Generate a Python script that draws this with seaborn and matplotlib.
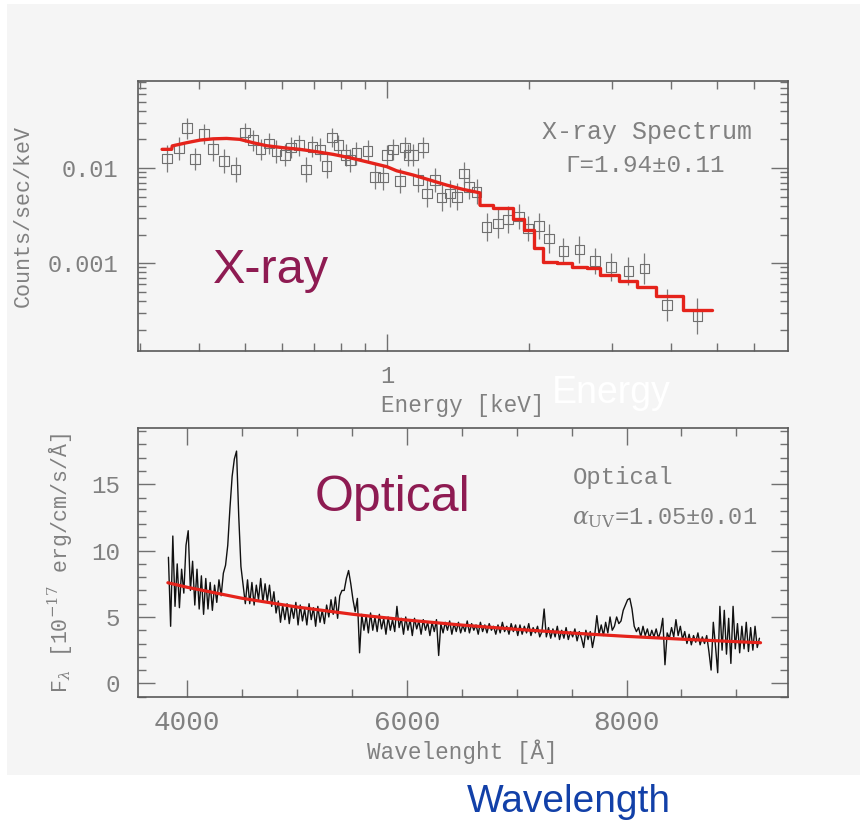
import numpy as np
import pandas as pd
import matplotlib
matplotlib.use("Agg")
import matplotlib.pyplot as plt
import seaborn as sns
from matplotlib.ticker import FixedLocator, NullFormatter, FixedFormatter
from matplotlib.patches import Rectangle

# ---------------- X-ray data ----------------
xray_energy = [0.342, 0.3625, 0.3775, 0.392, 0.410, 0.4285, 0.4516, 0.478, 0.500, 0.521,
               0.540, 0.563, 0.5835, 0.608, 0.626, 0.651, 0.6735, 0.695, 0.721, 0.745,
               0.766, 0.789, 0.8175, 0.835, 0.862, 0.910, 0.943, 0.982, 1.0, 1.031,
               1.065, 1.092, 1.11, 1.137, 1.165, 1.194, 1.214, 1.264, 1.306, 1.36,
               1.409, 1.456, 1.494, 1.549, 1.626, 1.721, 1.807, 1.907, 1.992, 2.102,
               2.207, 2.364, 2.556, 2.759, 2.983, 3.246, 3.51, 3.913, 4.545]
xray_counts = [0.0126, 0.0161, 0.0262, 0.01245, 0.0228, 0.0158, 0.01185, 0.00969, 0.0236, 0.0197,
               0.0157, 0.0182, 0.0149, 0.0137, 0.0165, 0.01745, 0.00969, 0.01675, 0.0157, 0.0105,
               0.0210, 0.01745, 0.0137, 0.0121, 0.0143, 0.0152, 0.0081, 0.00798, 0.0137, 0.0157,
               0.00736, 0.0165, 0.0137, 0.0137, 0.00748, 0.0165, 0.0054, 0.00748, 0.00491, 0.0054,
               0.00499, 0.00879, 0.00635, 0.00564, 0.00241, 0.00262, 0.00288, 0.00308, 0.00232, 0.00245,
               0.00182, 0.00134, 0.00139, 0.00105, 0.000914, 0.000824, 0.000879, 0.000361, 0.000277]
xray_err_dex = [0.14, 0.12, 0.11, 0.12, 0.11, 0.12, 0.13, 0.13, 0.10, 0.11,
                0.11, 0.11, 0.12, 0.12, 0.11, 0.11, 0.13, 0.11, 0.12, 0.13,
                0.10, 0.11, 0.12, 0.12, 0.12, 0.11, 0.13, 0.13, 0.11, 0.11,
                0.13, 0.11, 0.12, 0.12, 0.13, 0.11, 0.14, 0.13, 0.14, 0.14,
                0.14, 0.12, 0.13, 0.13, 0.15, 0.15, 0.14, 0.13, 0.13, 0.14,
                0.15, 0.14, 0.14, 0.14, 0.15, 0.15, 0.16, 0.17, 0.19]

# model: smooth (fine-binned) part and coarse-binned step part
model_smooth_E = [0.334, 0.350, 0.351, 0.376, 0.402, 0.4285, 0.4575, 0.488, 0.521, 0.556,
                  0.603, 0.654, 0.7096, 0.7695, 0.835, 0.906, 1.0, 1.048, 1.137, 1.233,
                  1.338, 1.451, 1.574, 1.574]
model_smooth_C = [0.01574, 0.01574, 0.0171, 0.01845, 0.0197, 0.0203, 0.0205, 0.02005, 0.01845, 0.01718,
                  0.01637, 0.01574, 0.01486, 0.01393, 0.01283, 0.01164, 0.01033, 0.00937, 0.00844, 0.00748,
                  0.00662, 0.00596, 0.00549, 0.00408]
model_step_E = [1.574, 1.68, 1.852, 1.951, 2.048, 2.144, 2.288, 2.462, 2.65, 2.827,
                3.106, 3.381, 3.715, 4.231, 4.875]
model_step_C = [0.00408, 0.00376, 0.00288, 0.00222, 0.00145, 0.00103, 0.000993, 0.000914, 0.000879, 0.000748,
                0.000652, 0.000564, 0.000453, 0.00032, 0.00032]

# ---------------- Optical data ----------------
opt_wave_start, opt_wave_stop, opt_wave_step = 3830, 9210, 20
opt_flux = [
    9.5, 4.3, 11.1, 5.8, 9.0,   5.7, 8.6, 6.8, 10.4, 11.5,
    7.0, 9.2, 5.9, 8.6, 5.6,    8.1, 5.2, 7.9, 5.6, 7.6,
    5.5, 7.4, 6.1, 7.8, 6.6,    8.3, 8.9, 10.4, 13.2, 15.6,
    16.9, 17.5, 12.6, 8.8, 7.4, 6.0, 7.8, 6.0, 7.6, 5.9,
    7.4, 6.3, 7.9, 6.1, 7.5,    6.2, 7.4, 5.8, 6.9, 5.3,
    6.2, 4.6, 5.9, 4.8, 6.0,    4.5, 5.8, 4.9, 6.1, 4.4,
    5.9, 4.7, 5.6, 4.4, 6.0,    4.8, 5.7, 4.3, 5.8, 4.6,
    5.5, 4.5, 5.9, 5.0, 6.3,    5.2, 6.5, 4.9, 6.6, 7.0,
    7.0, 7.9, 8.5, 7.5, 6.3,    5.4, 6.4, 2.3, 5.2, 4.0,
    5.1, 3.8, 5.3, 4.0, 5.0,    3.9, 5.2, 4.1, 4.9, 3.7,
    5.0, 4.0, 4.8, 3.9, 5.8,    4.2, 4.9, 3.7, 5.0, 4.0,
    4.8, 3.6, 4.9, 4.1, 4.7,    3.7, 4.8, 4.0, 4.6, 3.6,
    4.6, 3.9, 4.8, 2.1, 4.5,    3.8, 4.6, 4.0, 4.7, 3.7,
    4.5, 3.9, 4.6, 3.8, 4.4,    3.9, 4.7, 3.8, 4.5, 4.0,
    4.4, 3.7, 4.6, 3.9, 4.4,    3.8, 4.5, 4.0, 4.3, 3.7,
    4.4, 3.8, 4.6, 3.9, 4.3,    3.7, 4.5, 3.9, 4.4, 3.6,
    4.4, 3.7, 4.3, 3.8, 4.5,    3.6, 4.2, 3.8, 4.3, 3.5,
    3.9, 5.6, 3.5, 4.2, 3.4,    4.1, 3.5, 4.3, 3.3, 4.0,
    3.4, 4.2, 3.3, 3.9, 3.5,    4.1, 3.2, 3.9, 3.4, 2.7,
    4.0, 3.3, 3.9, 2.7, 3.6,    5.1, 3.7, 4.4, 3.6, 4.6,
    3.8, 5.0, 4.0, 4.3, 5.0,    4.5, 4.7, 5.5, 5.9, 6.3,
    6.4, 5.6, 4.3, 3.9, 4.2,    3.5, 4.3, 3.6, 4.1, 3.4,
    4.0, 3.5, 4.1, 3.4, 3.9,    4.9, 1.4, 3.8, 3.4, 4.2,
    3.5, 4.8, 3.6, 4.3, 3.3,    3.9, 3.0, 3.7, 2.9, 3.6,
    3.1, 3.8, 2.9, 3.5, 3.0,    3.6, 2.4, 1.0, 4.6, 2.8,
    0.8, 5.8, 2.5, 5.5, 2.2,    4.9, 1.5, 5.8, 2.6, 4.5,
    2.3, 4.3, 2.6, 4.6, 2.4,    4.2, 2.5, 4.3, 2.7, 3.4,
]
fit_wave = [3825, 4000, 4500, 5000, 5500, 6000, 6500, 7000, 7500, 8000, 8500, 9000, 9220]
fit_flux = [7.58, 7.24, 6.41, 5.75, 5.21, 4.77, 4.39, 4.07, 3.79, 3.54, 3.33, 3.14, 3.06]

# ---------------- styling ----------------
sns.set_theme(style="ticks")
plt.rcParams['font.family'] = ['Liberation Mono', 'DejaVu Sans']
plt.rcParams['mathtext.fontset'] = 'dejavuserif'

BG = '#f5f5f5'
TXT = '#808080'
SPINE = '#5a5a5a'
RED = '#e5231b'

W, H = 860, 822
fig = plt.figure(figsize=(W / 100, H / 100), dpi=100)
fig.patch.set_facecolor('white')
fig.patches.append(Rectangle((7 / W, 1 - 775 / H), 1 - 7 / W, (775 - 4) / H,
                             transform=fig.transFigure, facecolor=BG,
                             edgecolor='none', zorder=-10))

ax1 = fig.add_axes([138 / W, 1 - 351 / H, 650 / W, 270 / H])
ax2 = fig.add_axes([138 / W, 1 - 697 / H, 650 / W, 269 / H])

for ax in (ax1, ax2):
    ax.set_facecolor(BG)
    for s in ax.spines.values():
        s.set_color(SPINE)
        s.set_linewidth(1.2)
    ax.tick_params(which='both', direction='in', top=True, right=True,
                   color='#707070', width=1.0, labelcolor=TXT)
    ax.tick_params(which='major', length=12.5)
    ax.tick_params(which='minor', length=6)

# ---------------- top panel ----------------
ax1.set_xscale('log')
ax1.set_yscale('log')
cts = np.array(xray_counts)
err = np.array(xray_err_dex)
ax1.errorbar(xray_energy, cts, yerr=[cts * (1 - 10 ** -err), cts * (10 ** err - 1)],
             fmt='none', ecolor='#7a7a7a', elinewidth=0.9, zorder=2)
df_x = pd.DataFrame({'energy': xray_energy, 'counts': xray_counts})
sns.scatterplot(data=df_x, x='energy', y='counts', marker='s', s=48,
                fc='none', ec='#707070', linewidth=0.8, ax=ax1, zorder=3)
df_ms = pd.DataFrame({'E': model_smooth_E, 'C': model_smooth_C})
sns.lineplot(data=df_ms, x='E', y='C', sort=False, estimator=None,
             color=RED, lw=2.4, ax=ax1, zorder=4)
df_mt = pd.DataFrame({'E': model_step_E, 'C': model_step_C})
sns.lineplot(data=df_mt, x='E', y='C', sort=False, estimator=None,
             color=RED, lw=2.4, drawstyle='steps-post', ax=ax1, zorder=4)

ax1.set_xlim(0.297, 7.07)
ax1.set_ylim(1.19e-4, 0.0824)
ax1.xaxis.set_major_locator(FixedLocator([1]))
ax1.xaxis.set_major_formatter(FixedFormatter(['1']))
ax1.xaxis.set_minor_locator(FixedLocator([0.3, 0.4, 0.5, 0.6, 0.7, 0.8, 0.9, 2, 3, 4, 5, 6]))
ax1.xaxis.set_minor_formatter(NullFormatter())
ax1.yaxis.set_major_locator(FixedLocator([1e-3, 1e-2]))
ax1.yaxis.set_major_formatter(FixedFormatter(['0.001', '0.01']))
ax1.yaxis.set_minor_locator(FixedLocator([m * 10.0 ** e for e in (-4, -3, -2) for m in range(2, 10)]))
ax1.yaxis.set_minor_formatter(NullFormatter())
ax1.tick_params(axis='x', which='major', labelsize=17, pad=10)
ax1.tick_params(axis='y', which='major', labelsize=17, pad=14)
ax1.set_xlabel('')
ax1.set_ylabel('')

fig.text(23 / W, 1 - 216 / H, 'Counts/sec/keV', rotation=90, ha='center', va='center',
         fontsize=15.6, color=TXT)
fig.text(463 / W, 1 - 405 / H, 'Energy [keV]', ha='center', va='center',
         fontsize=16.3, color=TXT)
fig.text(647 / W, 1 - 132 / H, 'X-ray Spectrum', ha='center', va='center',
         fontsize=18, color=TXT)
fig.text(645 / W, 1 - 166 / H, 'Γ=1.94±0.11', ha='center', va='center',
         fontsize=17.5, color=TXT)
fig.text(213 / W, 1 - 283 / H, 'X-ray', ha='left', va='baseline',
         fontsize=35, color='#8e1b52', family='Liberation Sans')
fig.text(552 / W, 1 - 403 / H, 'Energy', ha='left', va='baseline',
         fontsize=27, color='white', family='Liberation Sans')

# ---------------- bottom panel ----------------
opt_wave = np.arange(opt_wave_start, opt_wave_stop + 1, opt_wave_step)
df_o = pd.DataFrame({'wave': opt_wave, 'flux': opt_flux})
sns.lineplot(data=df_o, x='wave', y='flux', sort=False, estimator=None,
             color='#111111', lw=1.0, ax=ax2, zorder=2)
df_f = pd.DataFrame({'wave': fit_wave, 'flux': fit_flux})
sns.lineplot(data=df_f, x='wave', y='flux', sort=False, estimator=None,
             color=RED, lw=2.3, ax=ax2, zorder=3)
ax2.set_xlim(3553, 9470)
ax2.set_ylim(-1.03, 19.24)
ax2.xaxis.set_major_locator(FixedLocator([4000, 6000, 8000]))
ax2.xaxis.set_minor_locator(FixedLocator(list(range(3500, 9501, 500))))
ax2.xaxis.set_minor_formatter(NullFormatter())
ax2.yaxis.set_major_locator(FixedLocator([0, 5, 10, 15]))
ax2.yaxis.set_minor_locator(FixedLocator(list(range(-1, 20))))
ax2.yaxis.set_minor_formatter(NullFormatter())
ax2.tick_params(axis='x', which='major', labelsize=20, pad=9)
ax2.tick_params(axis='y', which='major', labelsize=17.4, pad=13)
ax2.set_xlabel('')
ax2.set_ylabel('')

fig.text(60 / W, 1 - 563 / H, r'F$_\lambda$ [10$^{-17}$ erg/cm/s/Å]', rotation=90,
         ha='center', va='center', fontsize=15.5, color=TXT)
fig.text(462 / W, 1 - 752 / H, 'Wavelenght [Å]', ha='center', va='center',
         fontsize=16.3, color=TXT)
fig.text(573 / W, 1 - 477 / H, 'Optical', ha='left', va='center',
         fontsize=17.2, color=TXT)
fig.text(572 / W, 1 - 518 / H, r'$\alpha_{\rm UV}$=1.05±0.01', ha='left', va='center',
         fontsize=17, color=TXT)
fig.text(315 / W, 1 - 511 / H, 'Optical', ha='left', va='baseline',
         fontsize=36, color='#8e1b52', family='Liberation Sans')
fig.text(467 / W, 1 - 812 / H, 'Wavelength', ha='left', va='baseline',
         fontsize=28, color='#1240a8', family='Liberation Sans')

fig.savefig('out.png', dpi=100, facecolor=fig.get_facecolor())
